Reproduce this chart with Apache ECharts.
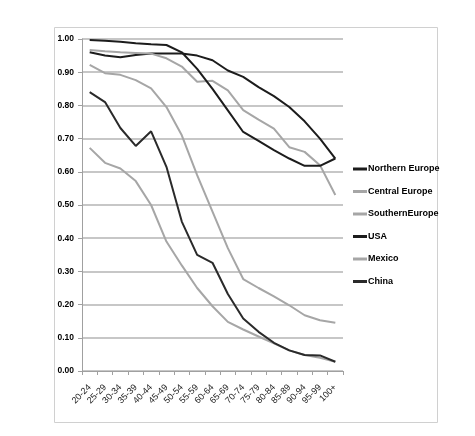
<!DOCTYPE html>
<html>
<head>
<meta charset="utf-8">
<script src="https://cdn.jsdelivr.net/npm/echarts@6/dist/echarts.min.js"></script>
<style>
  html, body { margin: 0; padding: 0; background: #fff; }
  #main { width: 475px; height: 436px; }
</style>
</head>
<body>
<div id="main"></div>
<script>
// age groups along the x axis
const ageGroups = ['20-24', '25-29', '30-34', '35-39', '40-44', '45-49', '50-54', '55-59', '60-64',
  '65-69', '70-74', '75-79', '80-84', '85-89', '90-94', '95-99', '100+'];

const northernEurope = [0.96, 0.95, 0.945, 0.952, 0.956, 0.956, 0.956, 0.95, 0.936, 0.905, 0.886, 0.855, 0.828, 0.795, 0.752, 0.70, 0.64];
const centralEurope = [0.967, 0.963, 0.96, 0.958, 0.956, 0.942, 0.917, 0.871, 0.874, 0.845, 0.786, 0.757, 0.73, 0.674, 0.66, 0.62, 0.53];
const southernEurope = [0.922, 0.897, 0.892, 0.876, 0.851, 0.795, 0.71, 0.59, 0.48, 0.37, 0.277, 0.25, 0.225, 0.198, 0.168, 0.153, 0.145];
const usa = [0.997, 0.995, 0.992, 0.987, 0.984, 0.982, 0.96, 0.91, 0.85, 0.785, 0.72, 0.693, 0.665, 0.64, 0.618, 0.618, 0.64];
const mexico = [0.672, 0.627, 0.61, 0.572, 0.50, 0.39, 0.318, 0.25, 0.195, 0.148, 0.125, 0.104, 0.083, 0.062, 0.048, 0.04, 0.028];
const china = [0.84, 0.81, 0.732, 0.678, 0.722, 0.615, 0.45, 0.35, 0.326, 0.232, 0.158, 0.118, 0.085, 0.062, 0.048, 0.047, 0.028];

const FONT = '"Liberation Sans", Arial, sans-serif';
const BLACK = '#1c1c1c';
const GRAY = '#a6a6a6';

const line = (name, data, color) => ({
    name: name,
    type: 'line',
    data: data,
    symbol: 'none',
    smooth: false,
    lineStyle: { color: color, width: 2 },
    itemStyle: { color: color }
});

const chart = echarts.init(document.getElementById('main'));
chart.setOption({
    animation: false,
    backgroundColor: '#fff',
    textStyle: { fontFamily: FONT },
    graphic: [{
        type: 'rect',
        shape: { x: 54.5, y: 27.5, width: 383, height: 395 },
        style: { fill: 'none', stroke: '#d0d0d0', lineWidth: 1 },
        silent: true
    }],
    grid: { left: 82, right: 132, top: 39, bottom: 65 },
    legend: {
        orient: 'vertical',
        left: 353,
        top: 162,
        padding: 0,
        itemWidth: 14,
        itemHeight: 3,
        itemGap: 8.5,
        icon: 'rect',
        textStyle: {
            fontFamily: FONT, fontSize: 9, fontWeight: 'bold', color: '#000',
            lineHeight: 14, padding: [0, 0, 0, -4]
        },
        data: ['Northern Europe', 'Central Europe', 'SouthernEurope', 'USA', 'Mexico', 'China']
    },
    xAxis: {
        type: 'category',
        data: ageGroups,
        boundaryGap: true,
        axisLine: { lineStyle: { color: '#a0a0a0', width: 1 } },
        axisTick: { show: true, length: 4, lineStyle: { color: '#a0a0a0' } },
        axisLabel: { rotate: 45, fontSize: 9, color: '#222', margin: 15, interval: 0 },
        splitLine: { show: false }
    },
    yAxis: {
        type: 'value',
        min: 0,
        max: 1,
        interval: 0.1,
        axisLine: { show: true, lineStyle: { color: '#a0a0a0' } },
        axisTick: { show: true, length: 4, lineStyle: { color: '#a0a0a0' } },
        axisLabel: {
            formatter: v => v.toFixed(2),
            fontSize: 8.5, fontWeight: 'bold', color: '#000', margin: 8
        },
        splitLine: { lineStyle: { color: '#b4b4b4', width: 1.5 } }
    },
    series: [
        line('Northern Europe', northernEurope, BLACK),
        line('Central Europe', centralEurope, GRAY),
        line('SouthernEurope', southernEurope, GRAY),
        line('USA', usa, BLACK),
        line('Mexico', mexico, GRAY),
        line('China', china, '#2a2a2a')
    ]
});
</script>
</body>
</html>
